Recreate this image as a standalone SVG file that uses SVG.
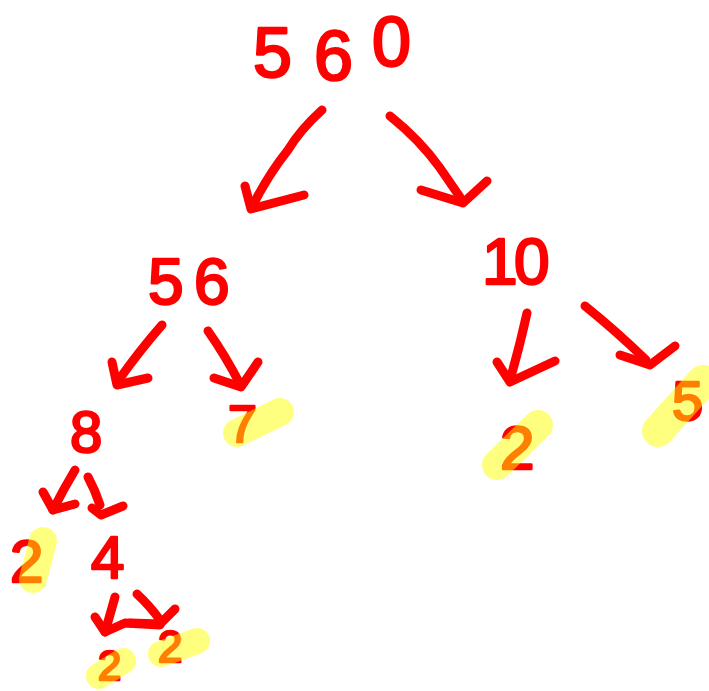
<svg xmlns="http://www.w3.org/2000/svg" width="709" height="691" viewBox="0 0 709 691">
<style>
.n{font-family:"Liberation Sans","DejaVu Sans",sans-serif;fill:#ff0000;stroke:#ff0000;stroke-width:2.5;stroke-linejoin:round}
.c path{fill:none;stroke:#ff0000;stroke-width:9;stroke-linecap:round;stroke-linejoin:round}
.h{stroke:#ffff00;stroke-opacity:0.5;stroke-linecap:round;fill:none}
</style>
<rect width="709" height="691" fill="#ffffff"/>
<g id="n560"><text class="n" font-size="70" x="253 314 372" y="77 80 66">560</text></g>
<g id="n56"><text class="n" font-size="64" x="148 194" y="304 304">56</text></g>
<g id="n10"><text class="n" font-size="64" x="482 514" y="284 284">10</text></g>
<g id="n8"><text class="n" font-size="58" x="70" y="452">8</text></g>
<g id="n7"><text class="n" font-size="52" x="228" y="442">7</text>
<path class="h" stroke-width="28" d="M237 433 L280 412"/></g>
<g id="n2a"><text class="n" font-size="62" x="500" y="469">2</text>
<path class="h" stroke-width="30" d="M497 465 L538 425"/></g>
<g id="n5"><text class="n" font-size="56" x="672" y="420">5</text>
<path class="h" stroke-width="32" d="M658 431 L703 381"/></g>
<g id="n2b"><text class="n" font-size="60" x="10" y="582">2</text>
<path class="h" stroke-width="28" d="M33 579 L43 541"/></g>
<g id="n4"><text class="n" font-size="60" x="91" y="578">4</text></g>
<g id="n2c"><text class="n" font-size="42" x="98" y="680">2</text>
<path class="h" stroke-width="26" d="M99 676 L123 661"/></g>
<g id="n2d"><text class="n" font-size="44" x="158" y="662">2</text>
<path class="h" stroke-width="26" d="M161 654 L197 641"/></g>
<g class="c" id="connectors">
<path d="M322 110 Q300 130 288 150 Q268 175 252 207"/>
<path d="M245 186 L251 209 L304 195"/>
<path d="M390 116 Q420 140 440 168 L462 200"/>
<path d="M421 190 L463 203 L487 181"/>
<path d="M162 325 Q140 350 118 381"/>
<path d="M112 362 L117 385 L148 378"/>
<path d="M208 331 Q225 355 240 384"/>
<path d="M214 378 L241 387 L258 362"/>
<path d="M527 313 Q520 345 510 380"/>
<path d="M497 362 L510 382 L555 361"/>
<path d="M585 306 Q615 330 646 360"/>
<path d="M620 355 L650 365 L675 346"/>
<path d="M75 470 Q63 490 53 510"/>
<path d="M43 492 L53 510 L75 504"/>
<path d="M88 477 Q95 490 100 505"/>
<path d="M92 508 L101 515 L123 506"/>
<path d="M115 597 Q110 615 105 632"/>
<path d="M95 617 L105 632 L125 623 L160 625"/>
<path d="M137 594 Q150 606 160 620"/>
<path d="M130 623 L160 624 L175 609"/>
</g>
</svg>
